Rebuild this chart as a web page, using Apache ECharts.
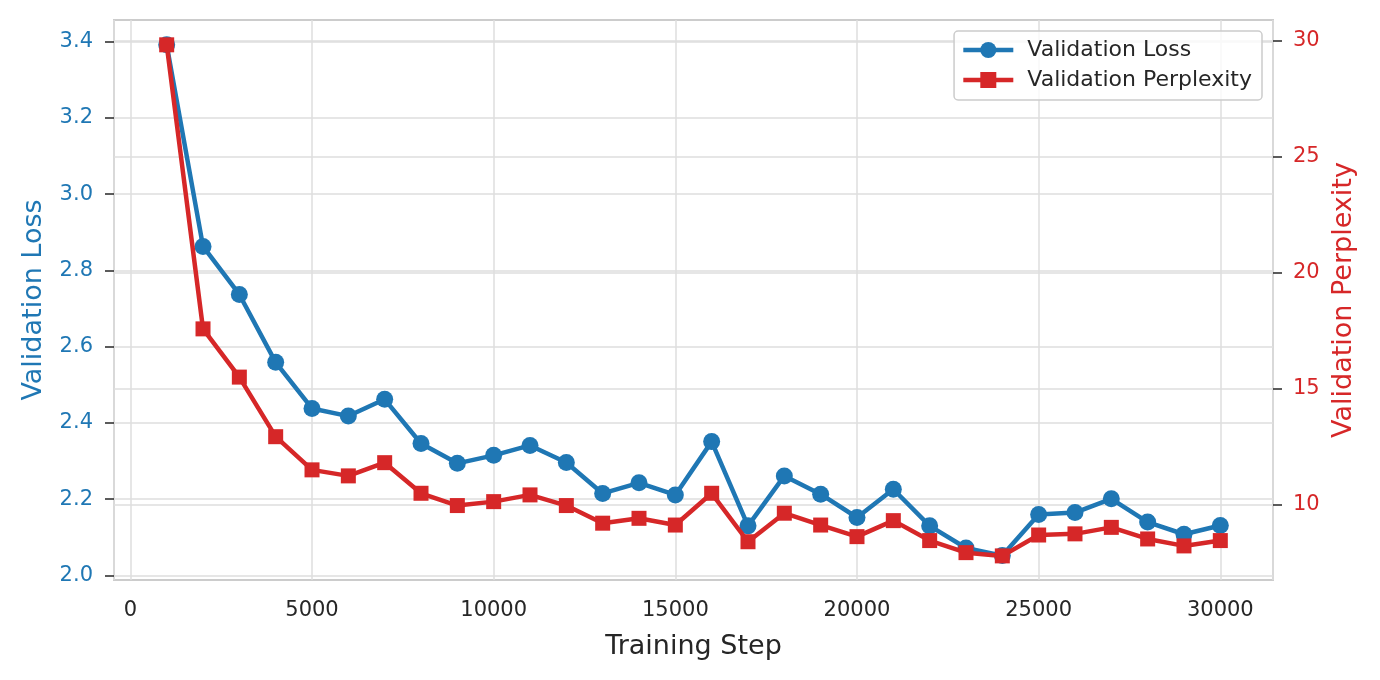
<!DOCTYPE html>
<html><head><meta charset="utf-8">
<script src="https://cdn.jsdelivr.net/npm/echarts@6/dist/echarts.min.js"></script>
<style>html,body{margin:0;padding:0;background:#fff}#c{width:1380px;height:680px}</style>
</head><body><div id="c"></div>
<script>
const steps = [1000,2000,3000,4000,5000,6000,7000,8000,9000,10000,11000,12000,13000,14000,15000,16000,17000,18000,19000,20000,21000,22000,23000,24000,25000,26000,27000,28000,29000,30000];
const validationLoss = [3.392,2.863,2.737,2.559,2.438,2.418,2.462,2.346,2.294,2.315,2.341,2.296,2.215,2.243,2.211,2.351,2.130,2.261,2.213,2.152,2.226,2.130,2.072,2.052,2.160,2.165,2.201,2.140,2.108,2.131];
const validationPerplexity = [29.83,17.58,15.50,12.93,11.50,11.24,11.81,10.49,9.96,10.13,10.42,9.96,9.20,9.41,9.12,10.49,8.40,9.63,9.12,8.62,9.31,8.45,7.93,7.79,8.69,8.74,9.02,8.52,8.22,8.45];
const xTickValues = [0,5000,10000,15000,20000,25000,30000];
const lossTickValues = [2.0,2.2,2.4,2.6,2.8,3.0,3.2,3.4];
const pplTickValues = [10,15,20,25,30];

const FONT = 'DejaVu Sans';
const BLUE = '#1f77b4', RED = '#d62728', DARK = '#262626', GRID = '#dedede';

const chart = echarts.init(document.getElementById('c'), null, {renderer: 'canvas'});
chart.setOption({
  animation: false,
  backgroundColor: '#ffffff',
  textStyle: {fontFamily: FONT},
  grid: {left: 114, right: 107, top: 20, bottom: 100, show: true, borderColor: '#cccccc', borderWidth: 2, backgroundColor: 'transparent'},
  legend: {
    data: ['Validation Loss', 'Validation Perplexity'],
    orient: 'vertical', right: 118, top: 31,
    padding: [8, 10, 9, 7], itemWidth: 50, itemHeight: 20, itemGap: 8,
    borderColor: '#cccccc', borderWidth: 1.5, borderRadius: 4,
    backgroundColor: 'rgba(255,255,255,0.8)',
    lineStyle: {width: 4.5},
    textStyle: {fontFamily: FONT, fontSize: 22, color: DARK, padding: [0, 0, 0, 9]}
  },
  xAxis: {
    type: 'value', min: -450, max: 31450,
    axisLine: {show: false, onZero: false}, axisTick: {show: false},
    axisLabel: {customValues: xTickValues, formatter: v => String(v), fontFamily: FONT, fontSize: 21, color: DARK, margin: 20},
    splitLine: {show: true, lineStyle: {color: GRID, width: 1.5}},
    name: 'Training Step', nameLocation: 'middle', nameGap: 53,
    nameTextStyle: {fontFamily: FONT, fontSize: 27, color: DARK}
  },
  yAxis: [{
    type: 'value', min: 1.988, max: 3.457, splitNumber: 7, position: 'left',
    axisLine: {show: false, onZero: false},
    axisTick: {show: true, inside: false, customValues: lossTickValues, length: 9, lineStyle: {color: DARK, width: 1.5}},
    axisLabel: {customValues: lossTickValues, formatter: v => v.toFixed(1), fontFamily: FONT, fontSize: 21, color: BLUE, margin: 21},
    splitLine: {show: true, lineStyle: {color: GRID, width: 1.5}},
    name: 'Validation Loss', nameLocation: 'middle', nameRotate: 90, nameGap: 67,
    nameTextStyle: {fontFamily: FONT, fontSize: 27, color: BLUE}
  }, {
    type: 'value', min: 6.75, max: 30.9, splitNumber: 5, position: 'right', alignTicks: false,
    axisLine: {show: false, onZero: false},
    axisTick: {show: true, inside: false, customValues: pplTickValues, length: 9, lineStyle: {color: DARK, width: 1.5}},
    axisLabel: {customValues: pplTickValues, fontFamily: FONT, fontSize: 21, color: RED, margin: 20},
    splitLine: {show: true, lineStyle: {color: GRID, width: 1.5}},
    name: 'Validation Perplexity', nameLocation: 'middle', nameRotate: 90, nameGap: 54,
    nameTextStyle: {fontFamily: FONT, fontSize: 27, color: RED}
  }],
  series: [{
    name: 'Validation Loss', type: 'line', yAxisIndex: 0,
    data: steps.map((s, i) => [s, validationLoss[i]]),
    symbol: 'circle', symbolSize: 17, showAllSymbol: true,
    lineStyle: {color: BLUE, width: 4.5}, itemStyle: {color: BLUE}, z: 3
  }, {
    name: 'Validation Perplexity', type: 'line', yAxisIndex: 1,
    data: steps.map((s, i) => [s, validationPerplexity[i]]),
    symbol: 'rect', symbolSize: 15, showAllSymbol: true,
    lineStyle: {color: RED, width: 4.5}, itemStyle: {color: RED}, z: 4
  }]
});
</script></body></html>
